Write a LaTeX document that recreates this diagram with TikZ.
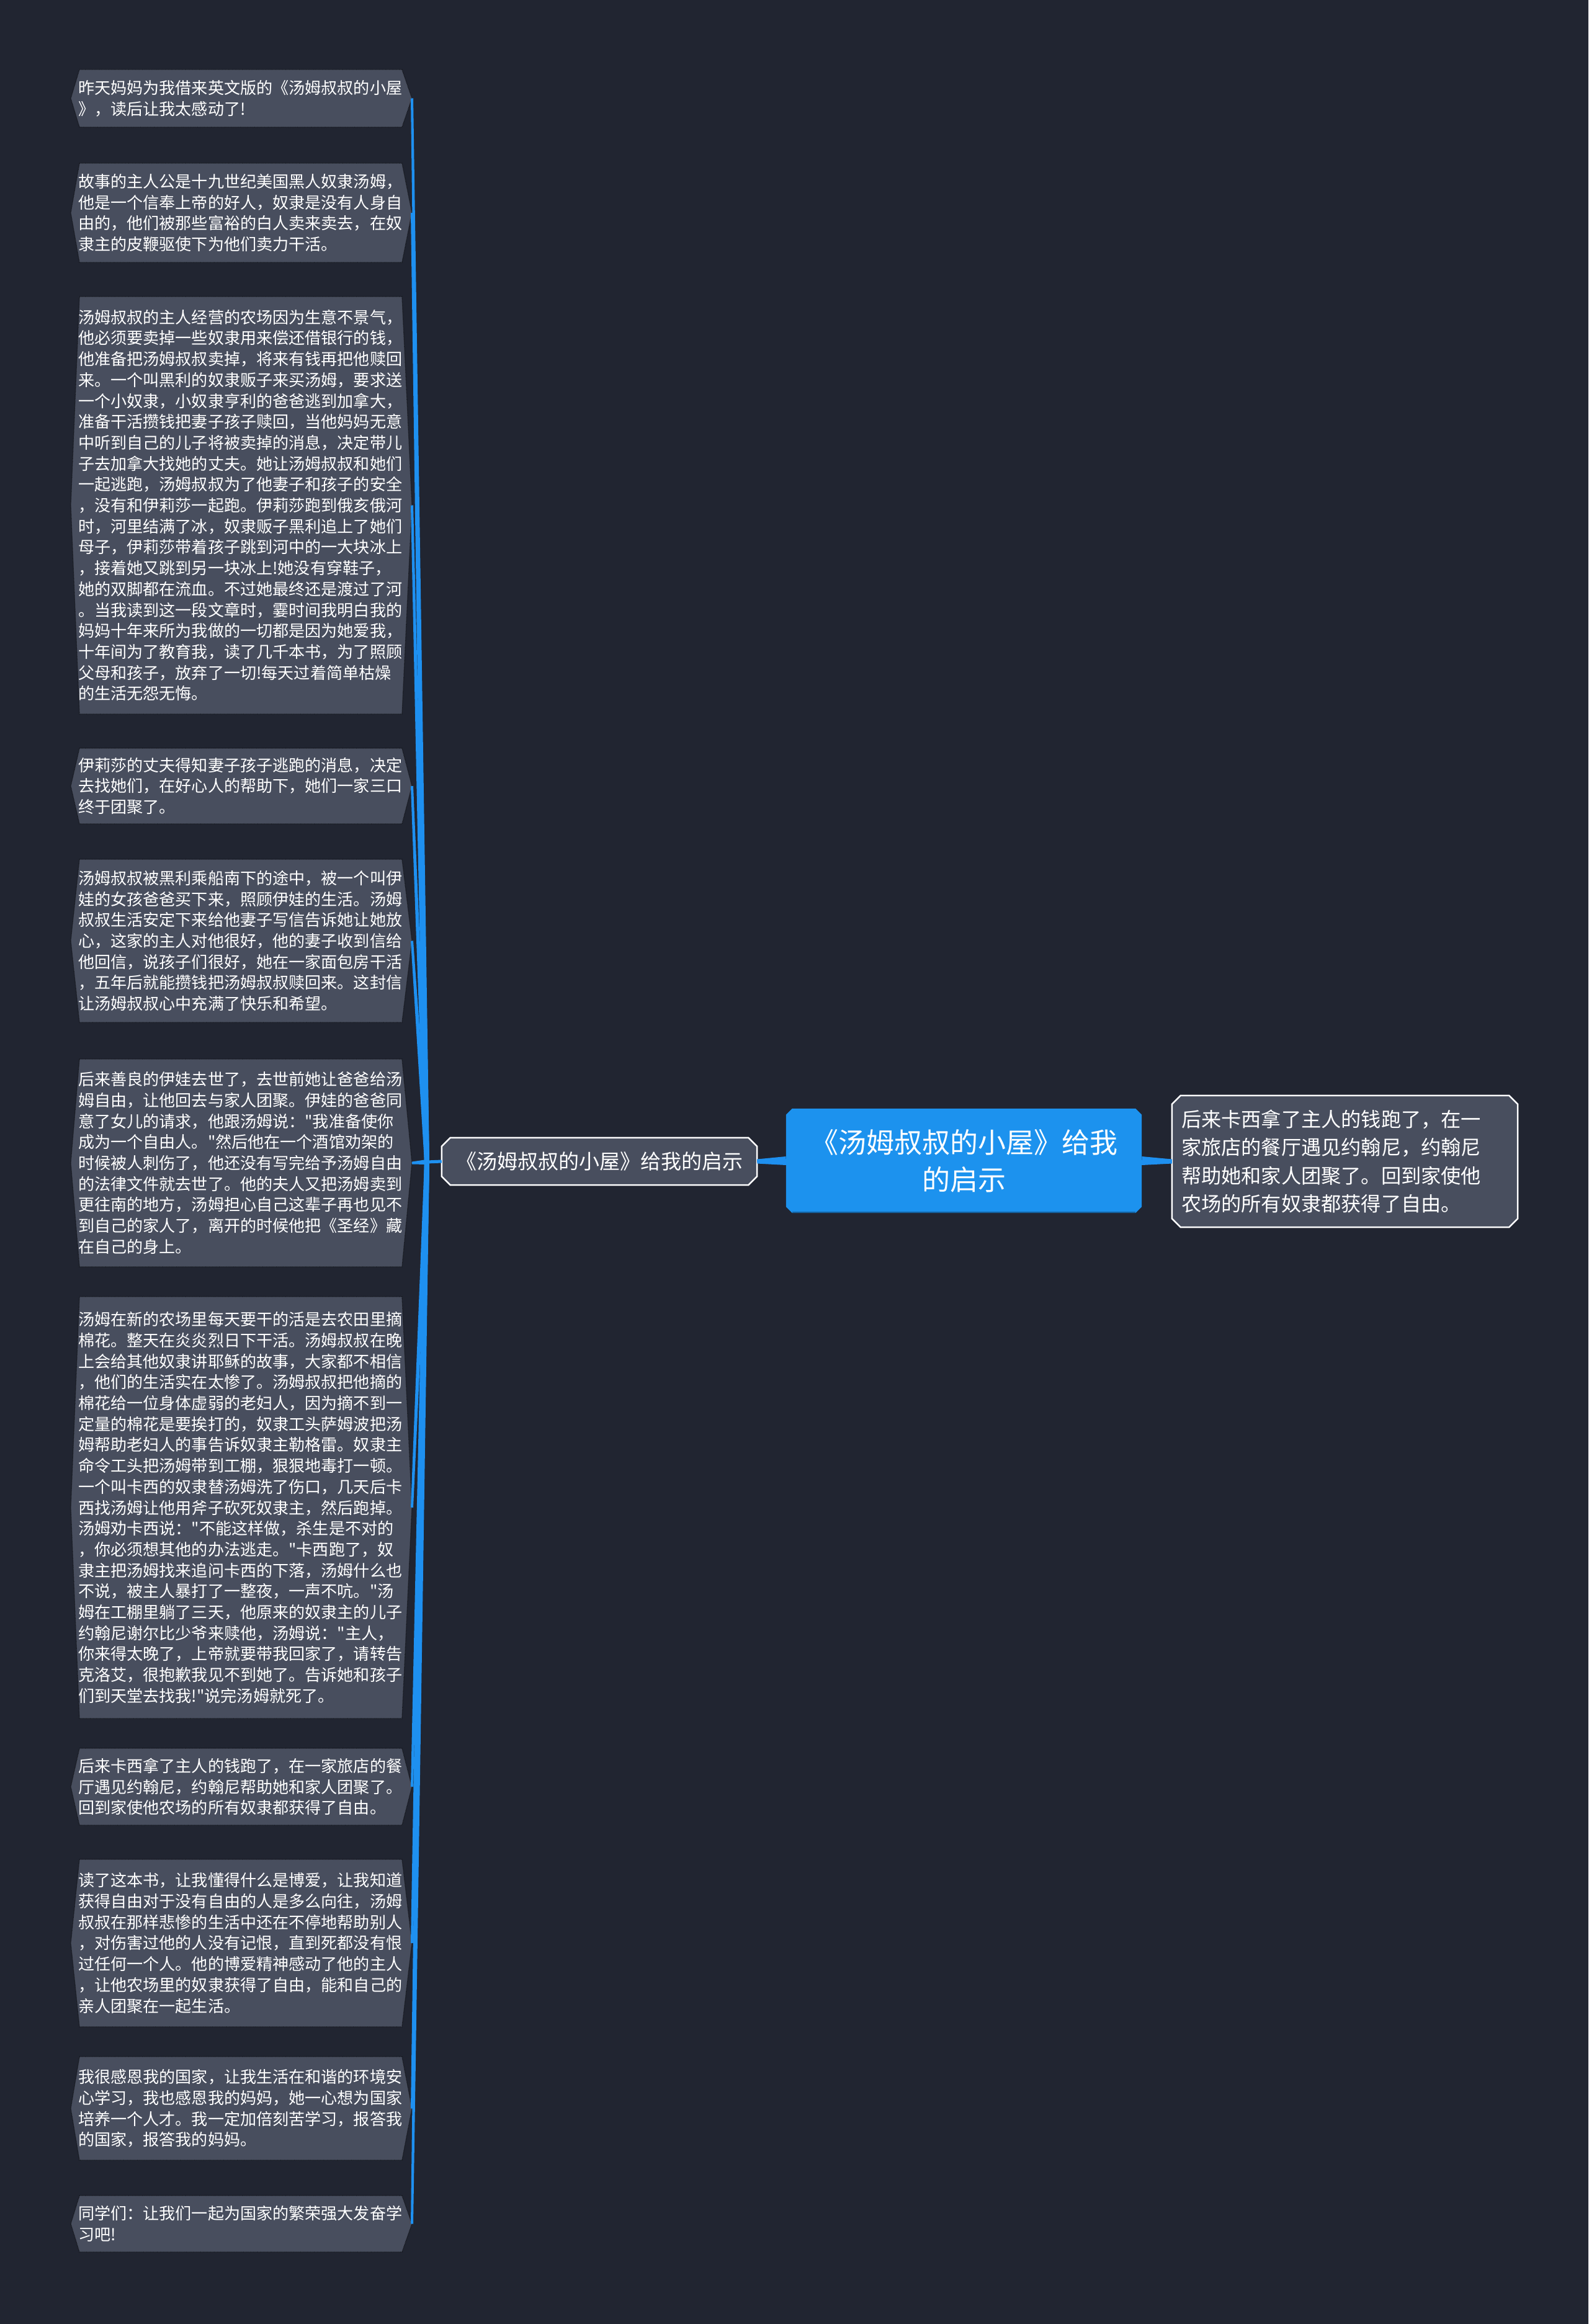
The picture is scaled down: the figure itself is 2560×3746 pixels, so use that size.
\documentclass[tikz,border=0pt]{standalone}
\usepackage{fontspec}
\newfontfamily\cjk{Noto Sans CJK SC}
\usetikzlibrary{calc,backgrounds}
\definecolor{bgc}{RGB}{33,37,49}
\definecolor{boxc}{RGB}{72,78,94}
\definecolor{bluec}{RGB}{28,146,238}
\definecolor{connc}{RGB}{30,144,240}
\definecolor{dotc}{RGB}{18,20,26}
\newcommand\leafbox[4]{%
  \pgfmathsetmacro\mymid{(#2+#3)/2}%
  \filldraw[leafshape] (128,#2) -- (648,#2) -- (664,\mymid) -- (648,#3) -- (128,#3) -- (114,\mymid) -- cycle;
  \node[leaftext] (#1) at (126,\mymid) {#4};
  \coordinate (#1r) at (664,\mymid);
}
\newcommand\taper[4]{%
  \fill[connc] ($(#1)!#3!90:(#2)$) -- ($(#2)!#4!-90:(#1)$) -- ($(#2)!#4!90:(#1)$) -- ($(#1)!#3!-90:(#2)$) -- cycle;}
\newcommand\chamf[3]{%
  \path[#3] ($(#1.north west)+(#2,0)$) -- ($(#1.north east)+(-#2,0)$) -- ($(#1.north east)+(0,#2)$) -- ($(#1.south east)+(0,-#2)$) -- ($(#1.south east)+(-#2,0)$) -- ($(#1.south west)+(#2,0)$) -- ($(#1.south west)+(0,-#2)$) -- ($(#1.north west)+(0,#2)$) -- cycle;}
\begin{document}
\begin{tikzpicture}[x=1pt,y=-1pt,
  leafshape/.style={fill=boxc, draw=dotc, densely dotted, line width=1.3pt},
  leaftext/.style={anchor=west, inner sep=0pt, align=left, text=white, font=\cjk\fontsize{26.1}{33.7}\selectfont},
  lnode/.style={inner sep=0pt, minimum width=508, minimum height=76, align=center, text=white, font=\cjk\fontsize{33}{40}\selectfont},
  cnode/.style={inner sep=0pt, minimum width=573, minimum height=168, align=center, text=white, font=\cjk\fontsize{45}{60}\selectfont},
  rnode/.style={inner xsep=15pt, inner ysep=0pt, text width=527, minimum height=212, align=left, text=white, font=\cjk\fontsize{32.2}{45.4}\selectfont}]
\useasboundingbox (0,0) rectangle (2560,3746);

\leafbox{b1}{112}{205}{昨天妈妈为我借来英文版的《汤姆叔叔的小屋\\》，读后让我太感动了!}
\leafbox{b2}{263}{423}{故事的主人公是十九世纪美国黑人奴隶汤姆，\\他是一个信奉上帝的好人，奴隶是没有人身自\\由的，他们被那些富裕的白人卖来卖去，在奴\\隶主的皮鞭驱使下为他们卖力干活。}
\leafbox{b3}{478}{1151}{汤姆叔叔的主人经营的农场因为生意不景气，\\他必须要卖掉一些奴隶用来偿还借银行的钱，\\他准备把汤姆叔叔卖掉，将来有钱再把他赎回\\来。一个叫黑利的奴隶贩子来买汤姆，要求送\\一个小奴隶，小奴隶亨利的爸爸逃到加拿大，\\准备干活攒钱把妻子孩子赎回，当他妈妈无意\\中听到自己的儿子将被卖掉的消息，决定带儿\\子去加拿大找她的丈夫。她让汤姆叔叔和她们\\一起逃跑，汤姆叔叔为了他妻子和孩子的安全\\，没有和伊莉莎一起跑。伊莉莎跑到俄亥俄河\\时，河里结满了冰，奴隶贩子黑利追上了她们\\母子，伊莉莎带着孩子跳到河中的一大块冰上\\，接着她又跳到另一块冰上!她没有穿鞋子，\\她的双脚都在流血。不过她最终还是渡过了河\\。当我读到这一段文章时，霎时间我明白我的\\妈妈十年来所为我做的一切都是因为她爱我，\\十年间为了教育我，读了几千本书，为了照顾\\父母和孩子，放弃了一切!每天过着简单枯燥\\的生活无怨无悔。}
\leafbox{b4}{1206}{1328}{伊莉莎的丈夫得知妻子孩子逃跑的消息，决定\\去找她们，在好心人的帮助下，她们一家三口\\终于团聚了。}
\leafbox{b5}{1385}{1648}{汤姆叔叔被黑利乘船南下的途中，被一个叫伊\\娃的女孩爸爸买下来，照顾伊娃的生活。汤姆\\叔叔生活安定下来给他妻子写信告诉她让她放\\心，这家的主人对他很好，他的妻子收到信给\\他回信，说孩子们很好，她在一家面包房干活\\，五年后就能攒钱把汤姆叔叔赎回来。这封信\\让汤姆叔叔心中充满了快乐和希望。}
\leafbox{b6}{1707}{2042}{后来善良的伊娃去世了，去世前她让爸爸给汤\\姆自由，让他回去与家人团聚。伊娃的爸爸同\\意了女儿的请求，他跟汤姆说："我准备使你\\成为一个自由人。"然后他在一个酒馆劝架的\\时候被人刺伤了，他还没有写完给予汤姆自由\\的法律文件就去世了。他的夫人又把汤姆卖到\\更往南的地方，汤姆担心自己这辈子再也见不\\到自己的家人了，离开的时候他把《圣经》藏\\在自己的身上。}
\leafbox{b7}{2090}{2770}{汤姆在新的农场里每天要干的活是去农田里摘\\棉花。整天在炎炎烈日下干活。汤姆叔叔在晚\\上会给其他奴隶讲耶稣的故事，大家都不相信\\，他们的生活实在太惨了。汤姆叔叔把他摘的\\棉花给一位身体虚弱的老妇人，因为摘不到一\\定量的棉花是要挨打的，奴隶工头萨姆波把汤\\姆帮助老妇人的事告诉奴隶主勒格雷。奴隶主\\命令工头把汤姆带到工棚，狠狠地毒打一顿。\\一个叫卡西的奴隶替汤姆洗了伤口，几天后卡\\西找汤姆让他用斧子砍死奴隶主，然后跑掉。\\汤姆劝卡西说："不能这样做，杀生是不对的\\，你必须想其他的办法逃走。"卡西跑了，奴\\隶主把汤姆找来追问卡西的下落，汤姆什么也\\不说，被主人暴打了一整夜，一声不吭。"汤\\姆在工棚里躺了三天，他原来的奴隶主的儿子\\约翰尼谢尔比少爷来赎他，汤姆说："主人，\\你来得太晚了，上帝就要带我回家了，请转告\\克洛艾，很抱歉我见不到她了。告诉她和孩子\\们到天堂去找我!"说完汤姆就死了。}
\leafbox{b8}{2818}{2942}{后来卡西拿了主人的钱跑了，在一家旅店的餐\\厅遇见约翰尼，约翰尼帮助她和家人团聚了。\\回到家使他农场的所有奴隶都获得了自由。}
\leafbox{b9}{2997}{3267}{读了这本书，让我懂得什么是博爱，让我知道\\获得自由对于没有自由的人是多么向往，汤姆\\叔叔在那样悲惨的生活中还在不停地帮助别人\\，对伤害过他的人没有记恨，直到死都没有恨\\过任何一个人。他的博爱精神感动了他的主人\\，让他农场里的奴隶获得了自由，能和自己的\\亲人团聚在一起生活。}
\leafbox{b10}{3315}{3482}{我很感恩我的国家，让我生活在和谐的环境安\\心学习，我也感恩我的妈妈，她一心想为国家\\培养一个人才。我一定加倍刻苦学习，报答我\\的国家，报答我的妈妈。}
\leafbox{b11}{3539}{3630}{同学们：让我们一起为国家的繁荣强大发奋学\\习吧!}

\node[lnode] (ln) at (966,1872) {《汤姆叔叔的小屋》给我的启示};
\node[cnode] (cn) at (1553.5,1871) {《汤姆叔叔的小屋》给我\\的启示};
\node[rnode] (rn) at (2167.5,1872) {后来卡西拿了主人的钱跑了，在一\\家旅店的餐厅遇见约翰尼，约翰尼\\帮助她和家人团聚了。回到家使他\\农场的所有奴隶都获得了自由。};
\coordinate (hub) at (688,1873);

\begin{scope}[on background layer]
  \fill[bgc] (0,0) rectangle (2560,3746);
  \chamf{ln}{14}{fill=boxc, draw=white, line width=2.5pt}
  \chamf{cn}{10}{fill=bluec}
  \draw[bluec!70!black, line width=2pt] ($(cn.south west)+(10,-1)$) -- ($(cn.south east)+(-10,-1)$);
  \chamf{rn}{14}{fill=boxc, draw=white, line width=2.5pt}
\end{scope}

\foreach \b in {b1,b2,b3,b4,b5,b6,b7,b8,b9,b10,b11} {\taper{hub}{\b r}{4pt}{2pt}}
\draw[connc, line width=5pt] (hub) -- (ln.west);
\taper{cn.west}{ln.east}{7pt}{3.5pt}
\taper{cn.east}{rn.west}{7pt}{3.5pt}
\end{tikzpicture}
\end{document}
